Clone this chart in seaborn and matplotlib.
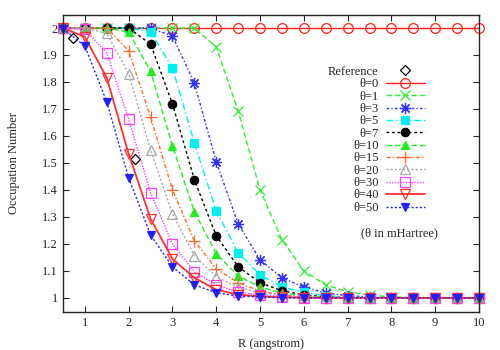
import numpy as np
import pandas as pd
import seaborn as sns
import matplotlib.pyplot as plt

# distances (angstrom)
r = [0.5, 1.0, 1.5, 2.0, 2.5, 3.0, 3.5, 4.0, 4.5, 5.0,
     5.5, 6.0, 6.5, 7.0, 7.5, 8.0, 8.5, 9.0, 9.5, 10.0]

ref_r = [0.73, 2.15]
ref_occ = [1.963, 1.515]

theta0 = [2.0] * 20
theta1 = [2.0, 2.0, 2.0, 2.0, 2.0, 2.0, 2.0, 1.93, 1.693, 1.40,
          1.215, 1.10, 1.048, 1.022, 1.01, 1.004, 1.0, 1.0, 1.0, 1.0]
theta3 = [2.0, 2.0, 2.0, 2.0, 2.0, 1.97, 1.796, 1.504, 1.274, 1.141,
          1.074, 1.04, 1.018, 1.008, 1.003, 1.0, 1.0, 1.0, 1.0, 1.0]
theta5 = [2.0, 2.0, 2.0, 2.0, 1.985, 1.852, 1.574, 1.322, 1.167, 1.085,
          1.041, 1.02, 1.008, 1.003, 1.0, 1.0, 1.0, 1.0, 1.0, 1.0]
theta7 = [2.0, 2.0, 2.0, 2.0, 1.94, 1.719, 1.437, 1.23, 1.115, 1.056,
          1.026, 1.011, 1.004, 1.0, 1.0, 1.0, 1.0, 1.0, 1.0, 1.0]
theta10 = [2.0, 2.0, 2.0, 1.985, 1.84, 1.563, 1.319, 1.163, 1.081, 1.04,
           1.018, 1.007, 1.003, 1.0, 1.0, 1.0, 1.0, 1.0, 1.0, 1.0]
theta15 = [2.0, 2.0, 2.0, 1.915, 1.67, 1.40, 1.211, 1.107, 1.056, 1.025,
           1.01, 1.004, 1.0, 1.0, 1.0, 1.0, 1.0, 1.0, 1.0, 1.0]
theta20 = [2.0, 2.0, 1.98, 1.83, 1.548, 1.311, 1.156, 1.078, 1.04, 1.018,
           1.007, 1.003, 1.0, 1.0, 1.0, 1.0, 1.0, 1.0, 1.0, 1.0]
theta30 = [2.0, 1.995, 1.907, 1.663, 1.389, 1.20, 1.096, 1.048, 1.022, 1.01,
           1.004, 1.0, 1.0, 1.0, 1.0, 1.0, 1.0, 1.0, 1.0, 1.0]
theta40 = [2.0, 1.967, 1.815, 1.533, 1.293, 1.144, 1.074, 1.03, 1.012, 1.005,
           1.002, 1.0, 1.0, 1.0, 1.0, 1.0, 1.0, 1.0, 1.0, 1.0]
theta50 = [1.998, 1.933, 1.726, 1.444, 1.233, 1.115, 1.048, 1.019, 1.007, 1.003,
           1.0, 1.0, 1.0, 1.0, 1.0, 1.0, 1.0, 1.0, 1.0, 1.0]

labels = ["θ=0", "θ=1", "θ=3", "θ=5", "θ=7", "θ=10",
          "θ=15", "θ=20", "θ=30", "θ=40", "θ=50"]
series = [theta0, theta1, theta3, theta5, theta7, theta10,
          theta15, theta20, theta30, theta40, theta50]

# gnuplot-like look: color, dashes, marker, filled, size, linewidth
styles = [
    ("#ff2020", "-", "o", False, 7, 1.0),
    ("#33ee33", (0, (4, 2)), "x", False, 7, 1.0),
    ("#3333ff", (0, (2, 1.5, 1, 1.5)), (8, 2, 0), False, 8, 1.0),
    ("#00f0f0", (0, (5, 2, 1, 2)), "s", True, 5.5, 1.0),
    ("#000000", (0, (2, 2)), "o", True, 6, 1.0),
    ("#22ee22", (0, (4, 2)), "^", True, 6, 1.0),
    ("#ff6a2a", (0, (3, 1.5, 1, 1.5)), "+", False, 8, 1.0),
    ("#a8a8a8", (0, (1.5, 1.5)), "^", False, 7, 1.0),
    ("#ff40ff", (0, (1, 1)), "s", False, 6.5, 1.0),
    ("#ff3030", "-", "v", False, 7, 1.3),
    ("#2020ff", (0, (1.5, 1.5)), "v", True, 6, 1.0),
]

sns.set_style("ticks")
plt.rcParams["font.family"] = ["Liberation Serif", "DejaVu Serif"]
plt.rcParams["font.size"] = 9

fig = plt.figure(figsize=(5, 3.5), dpi=100)
ax = fig.add_axes([0.126, 0.109, 0.832, 0.848])

df_ref = pd.DataFrame({"R": ref_r, "occ": ref_occ})
sns.lineplot(data=df_ref, x="R", y="occ", ax=ax, linestyle="none",
             marker="D", markersize=5, markerfacecolor="none",
             markeredgecolor="black", markeredgewidth=0.9,
             label="Reference", clip_on=False)

for lab, vals, (col, ls, mk, filled, ms, lw) in zip(labels, series, styles):
    df = pd.DataFrame({"R": r, "occ": vals})
    sns.lineplot(data=df, x="R", y="occ", ax=ax, color=col, linestyle=ls,
                 linewidth=lw, marker=mk, markersize=ms,
                 markerfacecolor=col if filled else "none",
                 markeredgecolor=col, markeredgewidth=0.9,
                 label=lab, clip_on=False)

ax.set_xlim(0.5, 10)
ax.set_ylim(0.948, 2.048)
ax.set_xticks(range(1, 11))
yt = np.round(np.arange(1.0, 2.01, 0.1), 1)
ax.set_yticks(yt)
ax.set_yticklabels([f"{v:g}" for v in yt])
ax.tick_params(direction="in", top=True, right=True, length=4, width=0.8,
               labelsize=9)
for s in ax.spines.values():
    s.set_linewidth(1.0)

ax.set_xlabel("R (angstrom)", fontsize=9)
ax.set_ylabel("Occupation Number", fontsize=9)
ax.yaxis.set_label_coords(-0.104, 0.5)
ax.xaxis.set_label_coords(0.5, -0.088)

handles, labs = ax.get_legend_handles_labels()
ax.legend(handles, labs, markerfirst=False, frameon=False,
          loc="upper right", bbox_to_anchor=(0.862, 0.83),
          bbox_transform=fig.transFigure, borderpad=0,
          handlelength=3.1, handletextpad=0.6, labelspacing=0.03,
          fontsize=9)
fig.text(0.798, 1 - 233 / 350, "(θ in mHartree)", ha="center", va="center",
         fontsize=9)

fig.savefig("out.png", dpi=100)
